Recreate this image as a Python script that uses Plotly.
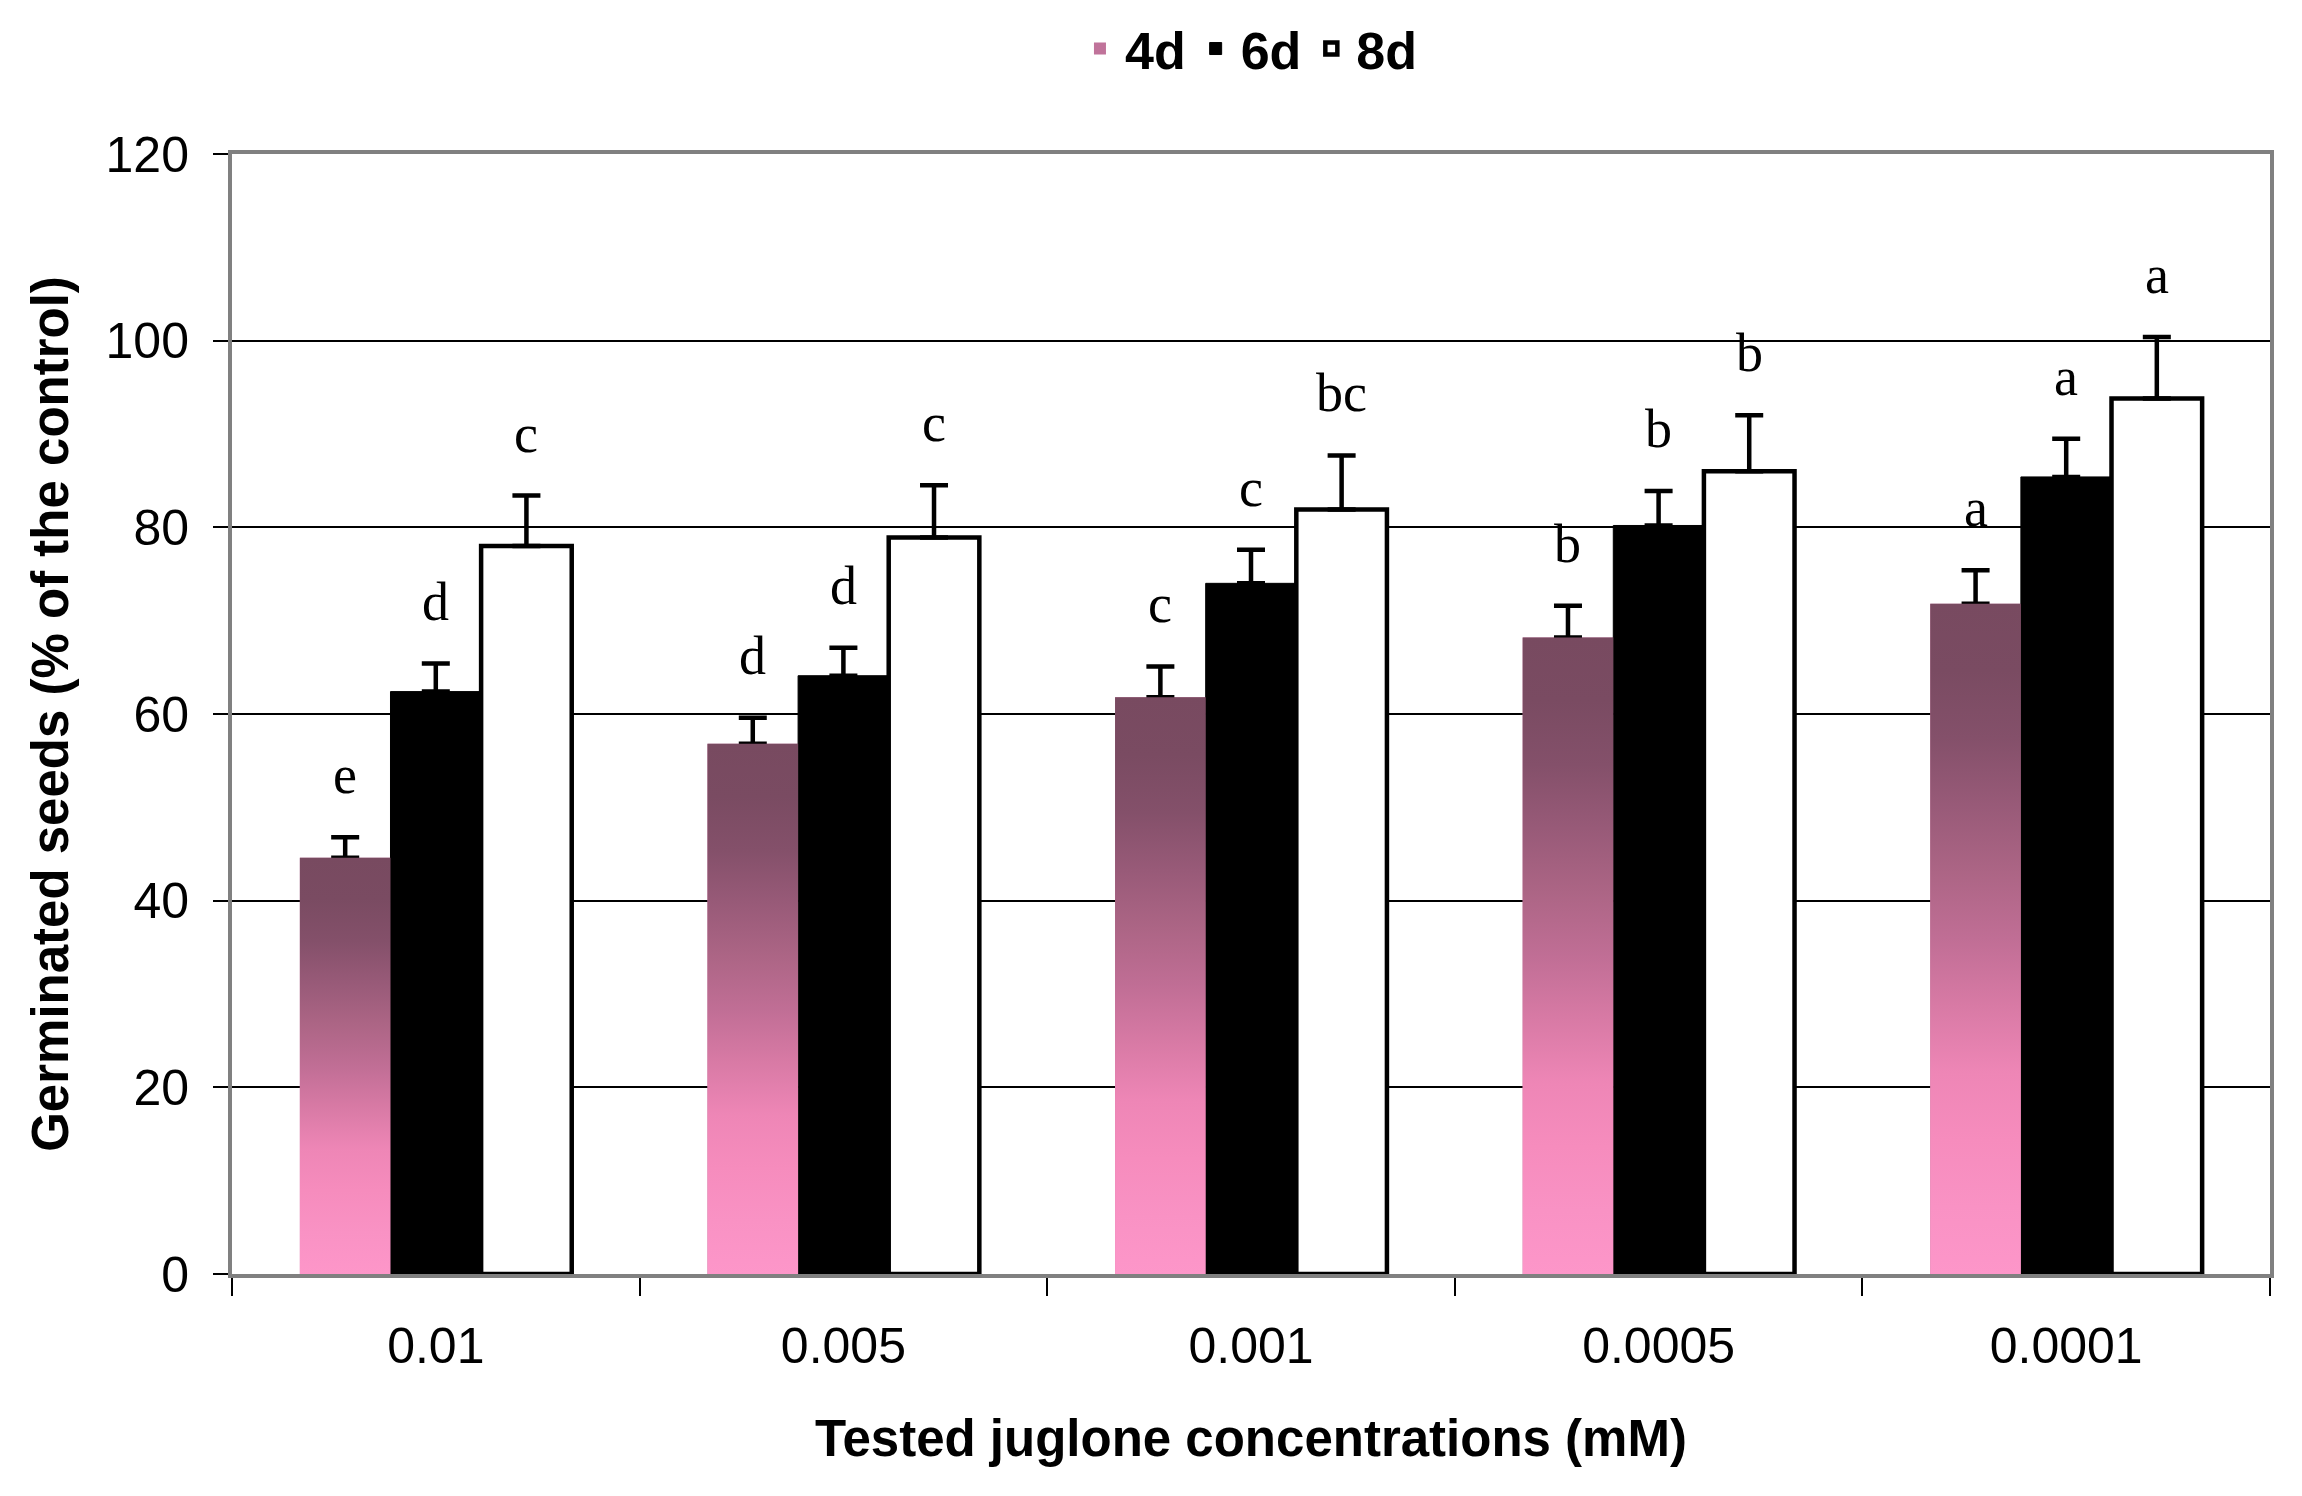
import plotly.graph_objects as go

categories = ["0.01", "0.005", "0.001", "0.0005", "0.0001"]
series_names = ["4d", "6d", "8d"]
v4 = [44.6, 56.8, 61.8, 68.2, 71.8]
e4 = [2.2, 2.8, 3.3, 3.4, 3.6]
v6 = [62.4, 64.1, 74.0, 80.2, 85.4]
e6 = [3.0, 3.0, 3.6, 3.7, 4.1]
v8 = [78.0, 78.9, 81.9, 86.0, 93.8]
e8 = [5.4, 5.6, 5.8, 6.0, 6.6]
letters4 = ["e", "d", "c", "b", "a"]
letters6 = ["d", "d", "c", "b", "a"]
letters8 = ["c", "c", "bc", "b", "a"]
y_ticks = [0, 20, 40, 60, 80, 100, 120]

BARGAP = 0.333
bw = (1 - BARGAP) / 3
offsets = [-bw, 0.0, bw]

grad = [[0, "#fd96c9"], [0.1, "#f992c4"], [0.2, "#f68cbd"], [0.3, "#ee86b6"],
        [0.4, "#d87aa5"], [0.5, "#c06e95"], [0.6, "#ac6585"], [0.7, "#985a78"],
        [0.8, "#84506a"], [0.9, "#7a4b62"], [1, "#784a60"]]

fig = go.Figure()

# 4d bars (legend + grouping + error bars); gradient overlay drawn on top
fig.add_trace(go.Bar(
    x=categories, y=v4, name=series_names[0], legendrank=1,
    marker=dict(color="#c0739a", line=dict(width=0)),
    error_y=dict(type="data", array=e4, arrayminus=[0] * 5, symmetric=False,
                 color="black", thickness=4.5, width=14),
))
fig.add_trace(go.Bar(
    x=categories, y=v6, name=series_names[1], legendrank=2,
    marker=dict(color="black", line=dict(color="black", width=1)),
    error_y=dict(type="data", array=e6, arrayminus=[0] * 5, symmetric=False,
                 color="black", thickness=4.5, width=14),
))
fig.add_trace(go.Bar(
    x=categories, y=v8, name=series_names[2], legendrank=3,
    marker=dict(color="white", line=dict(color="black", width=4.5)),
    error_y=dict(type="data", array=e8, arrayminus=[0] * 5, symmetric=False,
                 color="black", thickness=4.5, width=14),
))

# gradient-filled 4d bars on overlay linear axis
for i, v in enumerate(v4):
    c = i + offsets[0]
    x0, x1 = c - bw / 2, c + bw / 2
    fig.add_trace(go.Scatter(
        x=[x0, x1, x1, x0, x0], y=[0, 0, v, v, 0],
        xaxis="x2", yaxis="y", mode="lines", fill="toself",
        line=dict(width=0, color="#b06a8c"),
        fillgradient=dict(type="vertical", colorscale=grad),
        showlegend=False, hoverinfo="skip",
    ))

# significance letters
for vals, errs, labs, off in [(v4, e4, letters4, offsets[0]),
                              (v6, e6, letters6, offsets[1]),
                              (v8, e8, letters8, offsets[2])]:
    for i, (v, e, t) in enumerate(zip(vals, errs, labs)):
        fig.add_annotation(
            x=i + off, y=v + e, xref="x2", yref="y", text=t, showarrow=False,
            yanchor="middle", yshift=62,
            font=dict(family="Liberation Serif", size=54, color="black"),
        )

# page body has an 8px margin, so the figure is 8px smaller and margins shifted
fig.update_layout(
    width=2294, height=1488,
    paper_bgcolor="white", plot_bgcolor="white",
    margin=dict(l=224, r=32, t=146, b=222, autoexpand=False),
    barmode="group", bargap=BARGAP, bargroupgap=0,
    font=dict(family="Liberation Sans", color="black"),
    showlegend=True,
    legend=dict(orientation="h", x=0.499, xanchor="center", y=1.094, yanchor="middle",
                font=dict(size=52, family="Liberation Sans", color="black", weight="bold"),
                traceorder="normal", itemwidth=40, bgcolor="rgba(0,0,0,0)"),
    xaxis=dict(
        type="category", range=[-0.5, 4.5], tickson="boundaries",
        ticks="outside", ticklen=18, tickwidth=2, tickcolor="black",
        showline=True, linecolor="#808080", linewidth=4, mirror=True,
        showgrid=False,
        tickfont=dict(size=50, family="Liberation Sans"),
        ticklabelstandoff=25,
        title=dict(text="Tested juglone concentrations (mM)", standoff=48,
                   font=dict(size=51, family="Liberation Sans", weight="bold")),
    ),
    xaxis2=dict(overlaying="x", range=[-0.5, 4.5], visible=False, fixedrange=True),
    yaxis=dict(
        range=[0, 120], tickvals=y_ticks, ticks="outside", ticklen=15,
        tickwidth=2, tickcolor="black",
        showline=True, linecolor="#808080", linewidth=4, mirror=True,
        showgrid=True, gridcolor="black", gridwidth=1.5,
        tickfont=dict(size=50, family="Liberation Sans"),
        ticklabelstandoff=14,
        title=dict(text="Germinated seeds (% of the control)", standoff=22,
                   font=dict(size=51, family="Liberation Sans", weight="bold")),
        zeroline=False,
    ),
)

fig.write_html("out.html")
